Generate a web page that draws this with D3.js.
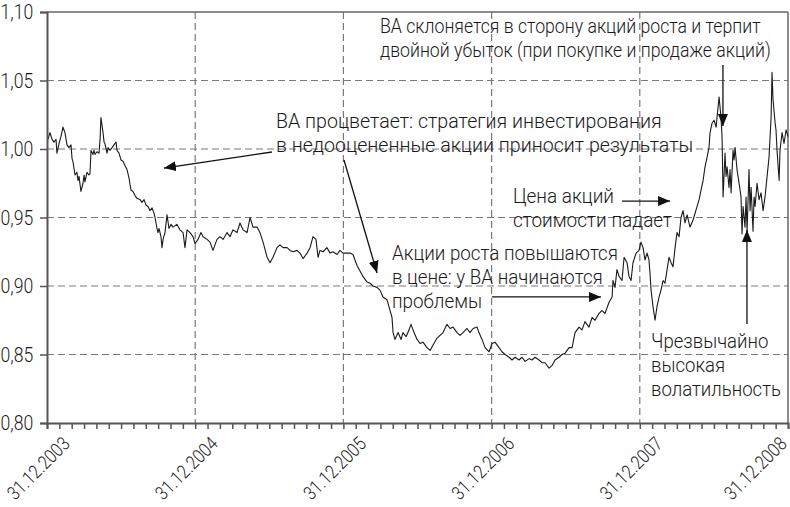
<!DOCTYPE html>
<html><head><meta charset="utf-8">
<script src="https://cdn.jsdelivr.net/npm/d3@7"></script>
<style>
html,body{margin:0;padding:0;background:#fff;}
svg text{font-family:Roboto,"Noto Sans",sans-serif;fill:#1a1a1a;}
</style></head><body>
<svg id="chart" width="790" height="507"></svg>
<script>
// decimal years (2004.000 = 31.12.2003)
const dates = [2004.007,2004.020,2004.034,2004.047,2004.061,2004.067,2004.081,2004.094,2004.108,2004.121,2004.135,2004.148,2004.162,2004.169,2004.175,2004.189,2004.202,2004.209,2004.216,2004.229,2004.243,2004.250,2004.256,2004.270,2004.283,2004.290,2004.297,2004.310,2004.317,2004.324,2004.337,2004.351,2004.358,2004.364,2004.378,2004.385,2004.391,2004.405,2004.412,2004.425,2004.439,2004.452,2004.466,2004.472,2004.486,2004.499,2004.513,2004.526,2004.540,2004.553,2004.567,2004.580,2004.594,2004.607,2004.628,2004.641,2004.655,2004.668,2004.682,2004.695,2004.709,2004.722,2004.729,2004.742,2004.749,2004.756,2004.769,2004.776,2004.783,2004.796,2004.810,2004.823,2004.837,2004.850,2004.877,2004.897,2004.918,2004.931,2004.945,2004.965,2004.985,2004.999,
2005.019,2005.039,2005.053,2005.080,2005.100,2005.120,2005.147,2005.167,2005.188,2005.215,2005.235,2005.255,2005.282,2005.302,2005.323,2005.350,2005.370,2005.390,2005.417,2005.437,2005.458,2005.485,2005.505,2005.525,2005.552,2005.572,2005.593,2005.620,2005.640,2005.660,2005.687,2005.707,2005.728,2005.755,2005.775,2005.795,2005.815,2005.829,2005.842,2005.863,2005.889,2005.910,2005.930,2005.957,2005.977,2005.997,
2006.024,2006.045,2006.065,2006.078,2006.092,2006.112,2006.132,2006.159,2006.180,2006.200,2006.227,2006.247,2006.267,2006.294,2006.315,2006.328,2006.335,2006.348,2006.369,2006.389,2006.402,2006.423,2006.443,2006.456,2006.477,2006.497,2006.517,2006.537,2006.564,2006.585,2006.605,2006.632,2006.652,2006.672,2006.699,2006.720,2006.740,2006.767,2006.787,2006.807,2006.834,2006.854,2006.875,2006.902,2006.915,2006.935,2006.956,2006.983,
2007.003,2007.023,2007.050,2007.070,2007.091,2007.118,2007.138,2007.158,2007.185,2007.205,2007.226,2007.253,2007.273,2007.293,2007.320,2007.340,2007.361,2007.388,2007.408,2007.428,2007.455,2007.475,2007.496,2007.523,2007.543,2007.563,2007.590,2007.610,2007.630,2007.657,2007.678,2007.698,2007.725,2007.745,2007.765,2007.792,2007.813,2007.819,2007.833,2007.846,2007.860,2007.880,2007.894,2007.914,2007.927,2007.941,2007.954,2007.975,2007.995,
2008.008,2008.022,2008.035,2008.049,2008.062,2008.069,2008.076,2008.089,2008.103,2008.116,2008.130,2008.143,2008.157,2008.170,2008.184,2008.197,2008.211,2008.224,2008.238,2008.251,2008.265,2008.278,2008.292,2008.305,2008.319,2008.332,2008.339,2008.359,2008.386,2008.400,2008.413,2008.427,2008.440,2008.454,2008.467,2008.474,2008.488,2008.501,2008.515,2008.521,2008.535,2008.548,2008.555,2008.562,2008.575,2008.582,2008.589,2008.602,2008.609,2008.616,2008.629,2008.636,2008.643,2008.656,2008.670,2008.683,2008.690,2008.697,2008.710,2008.717,2008.724,2008.737,2008.744,2008.751,2008.764,2008.771,2008.778,2008.791,2008.805,2008.818,2008.832,2008.845,2008.859,2008.872,2008.886,2008.892,2008.899,2008.913,2008.919,2008.926,2008.940,2008.946,2008.960,2008.973,2008.987,2009.000];

const values = [1.007,1.012,1.007,1.005,1.007,0.997,1.004,1.009,1.016,1.012,1.003,1.001,1.003,0.993,0.991,0.981,0.983,0.977,0.980,0.969,0.975,0.981,0.976,0.983,0.981,0.982,0.999,0.996,0.999,0.996,0.998,0.997,1.007,1.023,1.012,1.005,1.004,0.997,1.001,0.999,1.001,1.003,1.005,0.999,0.997,0.992,0.991,0.988,0.985,0.979,0.970,0.969,0.966,0.964,0.963,0.961,0.963,0.959,0.958,0.955,0.957,0.953,0.950,0.942,0.939,0.942,0.936,0.928,0.934,0.939,0.952,0.942,0.945,0.943,0.945,0.941,0.939,0.928,0.941,0.939,0.936,0.931,
0.934,0.939,0.936,0.934,0.932,0.926,0.934,0.936,0.934,0.939,0.936,0.941,0.939,0.946,0.941,0.939,0.950,0.943,0.943,0.939,0.932,0.921,0.917,0.921,0.928,0.930,0.928,0.928,0.926,0.925,0.926,0.924,0.920,0.924,0.928,0.936,0.934,0.921,0.926,0.925,0.928,0.924,0.925,0.923,0.926,0.924,
0.924,0.924,0.923,0.919,0.915,0.911,0.907,0.903,0.902,0.900,0.899,0.897,0.892,0.890,0.882,0.877,0.866,0.861,0.866,0.861,0.866,0.863,0.868,0.872,0.866,0.861,0.858,0.859,0.855,0.853,0.857,0.862,0.864,0.866,0.872,0.869,0.870,0.866,0.864,0.866,0.869,0.866,0.869,0.870,0.866,0.861,0.855,0.852,
0.858,0.859,0.855,0.852,0.850,0.848,0.846,0.848,0.846,0.848,0.845,0.847,0.846,0.848,0.846,0.844,0.844,0.840,0.842,0.846,0.848,0.850,0.851,0.855,0.855,0.866,0.870,0.868,0.874,0.870,0.877,0.875,0.880,0.882,0.880,0.888,0.892,0.904,0.899,0.912,0.907,0.904,0.921,0.917,0.907,0.904,0.917,0.924,0.926,
0.932,0.928,0.919,0.924,0.919,0.909,0.897,0.885,0.875,0.885,0.892,0.897,0.904,0.902,0.912,0.921,0.917,0.914,0.928,0.939,0.936,0.950,0.955,0.946,0.952,0.946,0.943,0.948,0.958,0.963,0.970,0.977,0.987,0.994,1.001,1.012,1.019,1.021,1.016,1.023,1.038,1.023,1.009,0.965,0.997,0.980,0.987,0.972,0.985,0.968,0.999,0.992,1.001,0.985,0.975,0.965,0.938,0.958,0.943,0.965,0.940,0.985,0.955,0.972,0.940,0.965,0.958,0.975,0.963,0.968,0.955,0.965,0.980,0.994,1.023,1.056,1.036,1.019,1.014,0.999,0.977,0.999,1.012,1.004,1.014,1.009];

const yTicks = [0.80, 0.85, 0.90, 0.95, 1.00, 1.05, 1.10];
const yTickLabels = ["0,80", "0,85", "0,90", "0,95", "1,00", "1,05", "1,10"];
const xTicks = [2004, 2005, 2006, 2007, 2008, 2009];
const xTickLabels = ["31.12.2003", "31.12.2004", "31.12.2005", "31.12.2006", "31.12.2007", "31.12.2008"];

const notes = [
  {t: 2006.247, v: 1.0847, sx: 0.885, lines: ["ВА склоняется в сторону акций роста и терпит", "двойной убыток (при покупке и продаже акций)"]},
  {t: 2005.545, v: 1.0153, sx: 0.98, lines: ["ВА процветает: стратегия инвестирования", "в недооцененные акции приносит результаты"]},
  {t: 2007.144, v: 0.9606, sx: 0.95, lines: ["Цена акций", "стоимости падает"]},
  {t: 2006.328, v: 0.9190, sx: 0.94, lines: ["Акции роста повышаются", "в цене: у ВА начинаются", "проблемы"]},
  {t: 2008.076, v: 0.8547, sx: 0.93, lines: ["Чрезвычайно", "высокая", "волатильность"]}
];
const arrows = [
  {t1: 2008.561, v1: 1.0613, t2: 2008.561, v2: 1.0168},
  {t1: 2005.518, v1: 0.9978, t2: 2004.789, v2: 0.9861},
  {t1: 2006.004, v1: 0.9920, t2: 2006.227, v2: 0.9095},
  {t1: 2007.880, v1: 0.9620, t2: 2008.204, v2: 0.9620},
  {t1: 2007.003, v1: 0.8920, t2: 2007.738, v2: 0.8920},
  {t1: 2008.723, v1: 0.8723, t2: 2008.723, v2: 0.9409}
];

const svg = d3.select("#chart");
const L = 47, R = 788, T = 12, B = 423;
const x = d3.scaleLinear().domain([2004, 2009]).range([L, R]);
const y = d3.scaleLinear().domain([0.80, 1.10]).range([B, T]);

const gridColor = "#7a7a7a";
svg.append("g").selectAll("line").data(yTicks.filter(v => v > 0.8 && v < 1.1)).join("line")
  .attr("x1", L).attr("x2", R).attr("y1", d => y(d)).attr("y2", d => y(d))
  .attr("stroke", gridColor).attr("stroke-width", 1.2).attr("stroke-dasharray", "7,4");
svg.append("g").selectAll("line").data(xTicks.filter(t => t > 2004 && t < 2009)).join("line")
  .attr("x1", d => x(d)).attr("x2", d => x(d)).attr("y1", T).attr("y2", B)
  .attr("stroke", gridColor).attr("stroke-width", 1.2).attr("stroke-dasharray", "7,4");

svg.append("line").attr("x1", L).attr("x2", R).attr("y1", T).attr("y2", T).attr("stroke", "#666").attr("stroke-width", 1.5);
svg.append("line").attr("x1", R).attr("x2", R).attr("y1", T).attr("y2", B).attr("stroke", "#666").attr("stroke-width", 1.5);

const line = d3.line().x((d, i) => x(dates[i])).y(d => y(d));
svg.append("path").datum(values).attr("d", line)
  .attr("fill", "none").attr("stroke", "#1a1a1a").attr("stroke-width", 1.1).attr("stroke-linejoin", "round");

const yAxis = d3.axisLeft(y).tickValues(yTicks).tickFormat((d, i) => yTickLabels[i]).tickSize(7).tickPadding(5);
const gy = svg.append("g").attr("transform", `translate(${L},0)`).call(yAxis);
gy.select(".domain").attr("stroke", "#555").attr("stroke-width", 2);
gy.selectAll(".tick line").attr("stroke", "#555").attr("stroke-width", 1.5);
gy.selectAll("text").attr("font-size", 20.5).attr("font-family", "Roboto").attr("fill", "#1a1a1a").attr("font-weight", 300)
  .attr("transform", "translate(-12,0) scale(0.86,1)").attr("x", -2);

const months = d3.range(0, 61).map(i => 2004 + i / 12);
const xAxis = d3.axisBottom(x).tickValues(months).tickSize(6).tickFormat("");
const gx = svg.append("g").attr("transform", `translate(0,${B})`).call(xAxis);
gx.select(".domain").attr("stroke", "#555").attr("stroke-width", 2);
gx.selectAll(".tick line").attr("stroke", "#555").attr("stroke-width", 1.5);

svg.append("g").selectAll("text").data(xTicks).join("text")
  .attr("transform", d => `translate(${Math.min(x(d) + 24, 788)},${B + 22}) rotate(-45) scale(0.85,1)`)
  .attr("text-anchor", "end")
  .attr("font-size", 19).attr("font-weight", 300)
  .text((d, i) => xTickLabels[i]);

svg.append("defs").append("marker").attr("id", "ah")
  .attr("markerUnits", "userSpaceOnUse").attr("viewBox", "0 0 12 10")
  .attr("refX", 12).attr("refY", 5).attr("markerWidth", 12).attr("markerHeight", 10).attr("orient", "auto")
  .append("path").attr("d", "M0,0L12,5L0,10Z").attr("fill", "#111");

svg.append("g").selectAll("line").data(arrows).join("line")
  .attr("x1", d => x(d.t1)).attr("y1", d => y(d.v1)).attr("x2", d => x(d.t2)).attr("y2", d => y(d.v2))
  .attr("stroke", "#111").attr("stroke-width", 1.3).attr("marker-end", "url(#ah)");

const ng = svg.append("g");
notes.forEach(n => {
  const x0 = x(n.t);
  const t = ng.append("text").attr("x", x0).attr("y", y(n.v)).attr("font-size", 20).attr("font-weight", 300)
    .attr("transform", `translate(${x0},0) scale(${n.sx},1) translate(${-x0},0)`);
  n.lines.forEach((s, i) => {
    t.append("tspan").attr("x", x0).attr("dy", i === 0 ? 0 : 24).text(s);
  });
});
</script>
</body></html>
